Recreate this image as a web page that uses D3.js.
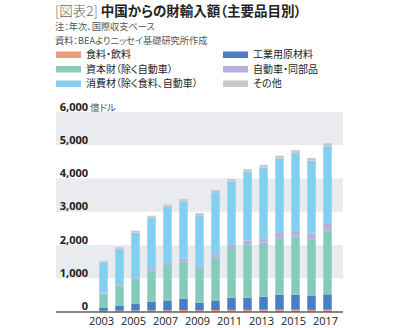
<!DOCTYPE html>
<html><head><meta charset="utf-8">
<script src="https://cdn.jsdelivr.net/npm/d3@7"></script>
<style>
html,body{margin:0;padding:0;background:#fff;}
svg{display:block;font-family:"Noto Sans CJK JP","Noto Sans",sans-serif;font-feature-settings:"palt";}
</style></head>
<body><svg id="c" width="401" height="328"></svg>
<script>
const years = [2003,2004,2005,2006,2007,2008,2009,2010,2011,2012,2013,2014,2015,2016,2017];
const food       = [20,25,30,35,40,45,40,45,50,50,55,55,55,50,55];
const industrial = [85,140,195,260,275,340,225,270,366,366,391,451,451,416,461];
const capital    = [430,620,765,915,1075,1120,1018,1311,1489,1604,1624,1699,1749,1709,1920];
const autos      = [30,40,45,65,65,90,72,100,95,110,125,180,175,175,200];
const consumer   = [908,1058,1335,1545,1693,1720,1540,1861,1908,2070,2135,2220,2337,2185,2336];
const other      = [50,55,60,60,65,70,65,70,80,80,80,85,85,85,90];
const yTicks = [0,1000,2000,3000,4000,5000,6000];
const xTickYears = [2003,2005,2007,2009,2011,2013,2015,2017];
const seriesNames = ["食料・飲料","工業用原材料","資本財（除く自動車）","自動車・同部品","消費材（除く食料、自動車）","その他"];
const seriesKeys = ["food","industrial","capital","autos","consumer","other"];
const colors = ["#EE9A7C","#4A7DC4","#86CBBB","#B8B0DC","#84CFF0","#C9C9C9"];

const svg = d3.select("#c");
const table = years.map((y,i)=>({year:y,food:food[i],industrial:industrial[i],capital:capital[i],autos:autos[i],consumer:consumer[i],other:other[i]}));

const x = d3.scaleBand().domain(years).range([95.5,335.5]).paddingInner(0.47).paddingOuter(0.235);
const y = d3.scaleLinear().domain([0,6000]).range([311.5,112]);
const plotL = 56, plotR = 343;

// bands
for (let v=1000; v<6000; v+=2000){
  svg.append("rect").attr("x",plotL).attr("width",plotR-plotL)
    .attr("y",y(v+1000)).attr("height",y(v)-y(v+1000)).attr("fill","#E9EBEE");
}

// stacked bars
const stack = d3.stack().keys(seriesKeys)(table);
svg.append("g").selectAll("g").data(stack).join("g")
  .attr("fill",(d,i)=>colors[i])
  .selectAll("rect").data(d=>d).join("rect")
  .attr("x",d=>x(d.data.year)).attr("width",x.bandwidth())
  .attr("y",d=>y(d[1])).attr("height",d=>y(d[0])-y(d[1]));

// baseline
svg.append("line").attr("x1",plotL).attr("x2",plotR).attr("y1",y(0)+0.5).attr("y2",y(0)+0.5)
  .attr("stroke","#111").attr("stroke-width",1.2);

// y labels
const yl = svg.append("g");
yTicks.forEach(v=>{
  yl.append("text").attr("x",88).attr("y",y(v)-1.5).attr("text-anchor","end")
    .attr("font-family","'Open Sans',sans-serif").attr("font-weight","700").attr("font-size",11)
    .attr("fill","#222").text(d3.format(",")(v));
});
yl.append("text").attr("x",90).attr("y",y(6000)-1.5).attr("font-size",9.5).attr("fill","#555").text("億ドル");

// x labels
const xa = d3.axisBottom(x).tickValues(xTickYears).tickSize(0).tickPadding(0);
const gx = svg.append("g").attr("transform",`translate(-2,${y(0)+13})`).call(xa);
gx.select(".domain").remove();
gx.selectAll("text").attr("font-family","'Open Sans',sans-serif").attr("font-size",11).attr("fill","#222").attr("dy","0");

// title
const t = svg.append("text").attr("x",55).attr("y",15.5).attr("font-size",13.5);
t.append("tspan").attr("fill","#666").attr("font-weight","300").text("[図表2] ");
t.append("tspan").attr("fill","#222").attr("font-weight","700").text("中国からの財輸入額（主要品目別）");
svg.append("text").attr("x",55).attr("y",30).attr("font-size",9.2).attr("fill","#555").text("注：年次、国際収支ベース");
svg.append("text").attr("x",55).attr("y",43.5).attr("font-size",9.2).attr("fill","#555").text("資料：BEAよりニッセイ基礎研究所作成");

// legend
const legOrder = [[0,56,54.5],[2,56,69],[4,56,83.5],[1,223,54.5],[3,223,69],[5,223,83.5]];
legOrder.forEach(([i,lx,ly])=>{
  svg.append("rect").attr("x",lx).attr("y",ly-3).attr("width",25).attr("height",6.5).attr("fill",colors[i]);
  svg.append("text").attr("x",lx+30).attr("y",ly+3.5).attr("font-size",10).attr("fill","#222").text(seriesNames[i]);
});
</script></body></html>
